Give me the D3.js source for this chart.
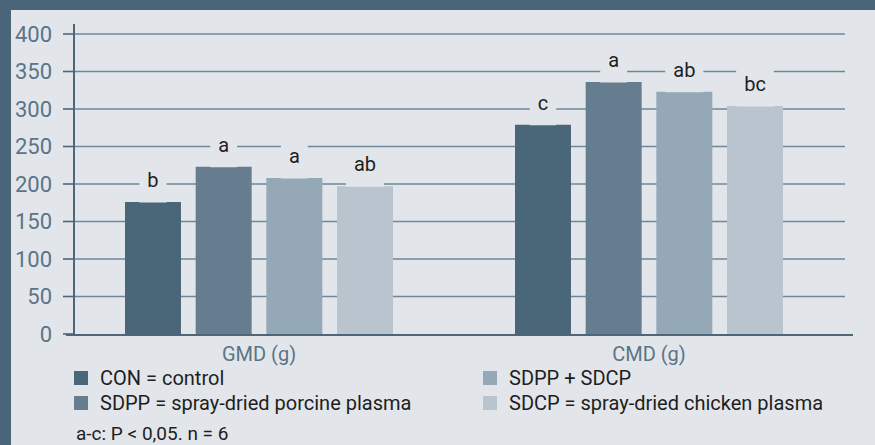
<!DOCTYPE html>
<html>
<head>
<meta charset="utf-8">
<script src="https://cdn.jsdelivr.net/npm/d3@7"></script>
<style>
  html, body { margin: 0; padding: 0; background: #4a6579; }
  svg { display: block; }
</style>
</head>
<body>
<svg id="chart" width="875" height="445"></svg>
<script>
// chart data
var groups = ['GMD (g)', 'CMD (g)'];
var treatments = ['CON', 'SDPP', 'SDPP + SDCP', 'SDCP'];
var gmdValues = [176, 223, 208, 197];
var cmdValues = [279, 336, 323, 304];
var gmdLetters = ['b', 'a', 'a', 'ab'];
var cmdLetters = ['c', 'a', 'ab', 'bc'];
var yTicks = [0, 50, 100, 150, 200, 250, 300, 350, 400];
var legendLabels = ['CON = control', 'SDPP = spray-dried porcine plasma', 'SDPP + SDCP', 'SDCP = spray-dried chicken plasma'];
var footnote = 'a-c: P < 0,05. n = 6';

var colors = ['#4a6679', '#667c8f', '#95a8b6', '#b9c4ce'];
var bg = '#e2e6eb';
var axisColor = '#4d6679';
var tickTextColor = '#5a7488';
var font = 'Roboto, "Liberation Sans", sans-serif';

var svg = d3.select('#chart');

// panel with dark frame on top and left
svg.append('rect').attr('x', 0).attr('y', 0).attr('width', 875).attr('height', 445).attr('fill', '#4a6579');
svg.append('rect').attr('x', 11).attr('y', 10).attr('width', 864).attr('height', 435).attr('fill', bg);

var y = d3.scaleLinear().domain([0, 400]).range([334, 34]);
var x0 = d3.scaleBand().domain(groups).range([64, 844]);
var x1 = d3.scaleBand().domain(treatments).range([0, x0.bandwidth()])
    .paddingInner(0.208).paddingOuter(0.863);

var rows = [
  { group: groups[0], values: gmdValues, letters: gmdLetters },
  { group: groups[1], values: cmdValues, letters: cmdLetters }
];

// gridlines
svg.append('g').selectAll('line')
    .data(yTicks.filter(function (d) { return d > 0; }))
    .enter().append('line')
    .attr('x1', 74).attr('x2', 845)
    .attr('y1', function (d) { return y(d); })
    .attr('y2', function (d) { return y(d); })
    .attr('stroke', '#6e879a')
    .attr('stroke-width', 1.6);

// bars
var g = svg.append('g').selectAll('g')
    .data(rows)
    .enter().append('g')
    .attr('transform', function (d) { return 'translate(' + x0(d.group) + ',0)'; });

g.selectAll('rect')
    .data(function (d) { return d.values.map(function (v, i) { return { t: treatments[i], v: v, l: d.letters[i], i: i }; }); })
    .enter().append('rect')
    .attr('x', function (d) { return x1(d.t); })
    .attr('width', x1.bandwidth())
    .attr('y', function (d) { return y(d.v); })
    .attr('height', function (d) { return y(0) - y(d.v); })
    .attr('fill', function (d) { return colors[d.i]; });

// significance letters on a background box that breaks the gridlines
var lab = g.selectAll('g.lab')
    .data(function (d) { return d.values.map(function (v, i) { return { t: treatments[i], v: v, l: d.letters[i] }; }); })
    .enter().append('g').attr('class', 'lab');

lab.append('text')
    .attr('x', function (d) { return x1(d.t) + x1.bandwidth() / 2; })
    .attr('y', function (d) { return y(d.v) - 15; })
    .attr('text-anchor', 'middle')
    .style('font-family', font)
    .style('font-size', '20px')
    .style('fill', '#1e1e1e')
    .text(function (d) { return d.l; });

lab.each(function () {
  var t = d3.select(this).select('text');
  var bb = t.node().getBBox();
  var d = t.datum();
  d3.select(this).insert('rect', 'text')
      .attr('x', bb.x - 8)
      .attr('width', bb.width + 16)
      .attr('y', y(d.v) - 37)
      .attr('height', 37.5)
      .attr('fill', bg);
});

// axes
svg.append('line').attr('x1', 74).attr('x2', 74).attr('y1', 24).attr('y2', 335)
    .attr('stroke', axisColor).attr('stroke-width', 2);
svg.append('line').attr('x1', 66).attr('x2', 853).attr('y1', 335).attr('y2', 335)
    .attr('stroke', axisColor).attr('stroke-width', 2);

var ticks = svg.append('g').selectAll('g')
    .data(yTicks)
    .enter().append('g')
    .attr('transform', function (d) { return 'translate(0,' + y(d) + ')'; });
ticks.append('line').attr('x1', 63).attr('x2', 74)
    .attr('stroke', axisColor).attr('stroke-width', 1.6);
ticks.append('text')
    .attr('x', 52).attr('dy', '0.36em')
    .attr('text-anchor', 'end')
    .style('font-family', font)
    .style('font-size', '22px')
    .style('fill', tickTextColor)
    .text(function (d) { return d; });

// group labels
svg.append('g').selectAll('text')
    .data(groups)
    .enter().append('text')
    .attr('x', function (d) { return x0(d) + x0.bandwidth() / 2; })
    .attr('y', 361)
    .attr('text-anchor', 'middle')
    .style('font-family', font)
    .style('font-size', '20px')
    .style('fill', tickTextColor)
    .text(function (d) { return d; });

// legend
var legendPos = [[74, 371], [74, 396], [483, 371], [483, 396]];
var leg = svg.append('g').selectAll('g')
    .data(legendLabels)
    .enter().append('g')
    .attr('transform', function (d, i) { return 'translate(' + legendPos[i][0] + ',' + legendPos[i][1] + ')'; });
leg.append('rect').attr('width', 14).attr('height', 14)
    .attr('fill', function (d, i) { return colors[i]; });
leg.append('text')
    .attr('x', 26).attr('y', 7).attr('dy', '0.36em')
    .style('font-family', font)
    .style('font-size', '20px')
    .style('fill', '#1e1e1e')
    .text(function (d) { return d; });

svg.append('text')
    .attr('x', 76).attr('y', 440)
    .style('font-family', font)
    .style('font-size', '19px')
    .style('fill', '#1e1e1e')
    .text(footnote);
</script>
</body>
</html>
